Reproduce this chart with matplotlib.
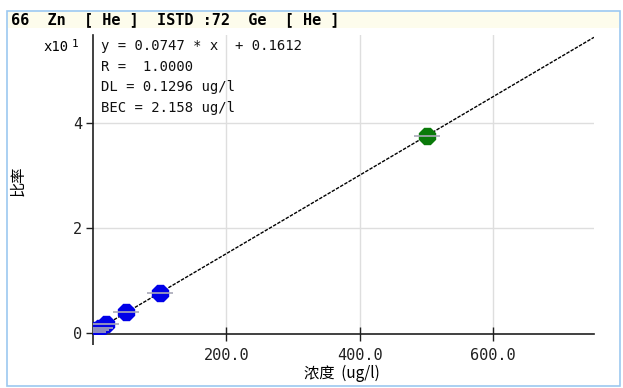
import matplotlib
matplotlib.use("Agg")
import matplotlib.pyplot as plt
from matplotlib.patches import Rectangle

# ---- data ----
conc = [0, 5, 10, 20, 50, 100, 500]            # ug/l
ratio = [0.02, 0.05, 0.09, 0.17, 0.39, 0.76, 3.74]   # x10^1
point_colors = ['#0000E8'] * 6 + ['#0A7A0A']
fit_slope = 0.0747
fit_intercept = 0.1612
ratio_scale = 10.0
x_ticks = [200, 400, 600]
x_tick_labels = ['200.0', '400.0', '600.0']
y_ticks = [0, 2, 4]
y_tick_labels = ['0', '2', '4']
title = "66  Zn  [ He ]  ISTD :72  Ge  [ He ]"
info_lines = ["y = 0.0747 * x  + 0.1612", "R =  1.0000", "DL = 0.1296 ug/l", "BEC = 2.158 ug/l"]
x_max = 751
y_min, y_max = -0.02, 5.67

W, H = 623, 388
fig = plt.figure(figsize=(W / 100, H / 100), dpi=100)
fig.patch.set_facecolor('white')

def fx(px):
    return px / W

def fy(py):
    return 1 - py / H

# outer frame and title bar
fig.patches.append(Rectangle((fx(7), fy(386)), fx(613), 375 / H, transform=fig.transFigure,
                             facecolor='none', edgecolor='#9CC8F0', lw=1.2, zorder=0))
fig.patches.append(Rectangle((fx(8), fy(28)), fx(611), 16 / H, transform=fig.transFigure,
                             facecolor='#FDFCEC', edgecolor='none', lw=0, zorder=0.5))
fig.text(fx(11), fy(19.5), title, fontsize=11, fontweight='bold', family='DejaVu Sans Mono',
         ha='left', va='center', color='black')

ax = fig.add_axes([fx(93), fy(334), fx(594 - 93), (334 - 35) / H])
ax.set_zorder(2)
ax.set_facecolor('none')
ax.set_xlim(0, x_max)
ax.set_ylim(y_min, y_max)

for s in ['top', 'right']:
    ax.spines[s].set_visible(False)
ax.spines['left'].set_color('#202020')
ax.spines['bottom'].set_color('#202020')
ax.spines['left'].set_linewidth(1.2)
ax.spines['bottom'].set_linewidth(1.2)

# grid
for xv in x_ticks:
    ax.axvline(xv, color='#DEDEDE', lw=1, zorder=1)
for yv in y_ticks[1:]:
    ax.axhline(yv, color='#DEDEDE', lw=1, zorder=1)

# fit line
xs = [0, x_max]
ys = [(fit_slope * v + fit_intercept) / ratio_scale for v in xs]
ax.plot(xs, ys, color='black', lw=1, linestyle=(0, (2.5, 1)), zorder=3)

# points
for xv, yv, c in zip(conc, ratio, point_colors):
    ax.plot([xv], [yv], marker='8', markersize=12, color=c, markeredgecolor=c, zorder=4,
            linestyle='none')
    ax.plot([xv], [yv], marker='_', markersize=19, markeredgewidth=1.2, color='#A8A8B8',
            zorder=5, linestyle='none')

ax.set_xticks(x_ticks)
ax.set_xticklabels(x_tick_labels, family='DejaVu Sans Mono', fontsize=11)
ax.set_yticks(y_ticks)
ax.set_yticklabels(y_tick_labels, family='DejaVu Sans Mono', fontsize=11)
ax.set_xticks([0], minor=True)
ax.tick_params(axis='x', which='major', direction='inout', length=10, width=1, pad=5, colors='#202020')
ax.tick_params(axis='x', which='minor', direction='out', length=8, width=1.2, colors='#202020')
ax.tick_params(axis='y', direction='out', length=5, width=1, pad=3, colors='#202020')
for lab in ax.get_xticklabels() + ax.get_yticklabels():
    lab.set_color('#202020')

# info text
for i, line in enumerate(info_lines):
    fig.text(fx(101), fy(46 + i * 20.7), line, fontsize=10, family='DejaVu Sans Mono',
             ha='left', va='center', color='#101010', zorder=10)

# multiplier
fig.text(fx(43), fy(47), 'x10', fontsize=10, family='DejaVu Sans Mono', ha='left', va='center')
fig.text(fx(72), fy(44), '1', fontsize=8, family='DejaVu Sans Mono', ha='left', va='center')

# axis labels
fig.text(fx(18), fy(181), '比率', fontsize=11, rotation=90, ha='center', va='center',
         family=['Noto Sans CJK SC', 'DejaVu Sans'])
fig.text(fx(342), fy(373), '浓度  (ug/l)', fontsize=11, ha='center', va='center',
         family=['Noto Sans CJK SC', 'DejaVu Sans'])

fig.savefig('out.png', dpi=100)
